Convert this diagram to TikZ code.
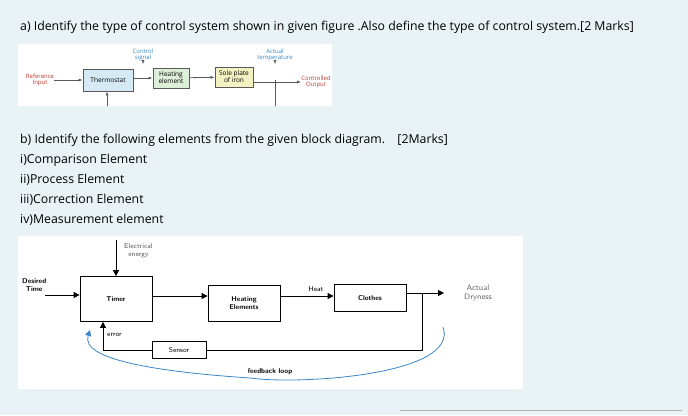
\documentclass[tikz,border=0pt]{standalone}
\usepackage{fontspec}
\setmainfont{Open Sans}
\usetikzlibrary{positioning,arrows.meta}
\definecolor{pagebg}{HTML}{E9F3F6}
\definecolor{thermo}{HTML}{D6EAF5}
\definecolor{heatc}{HTML}{DDEFD9}
\definecolor{solec}{HTML}{F3F0C2}
\definecolor{refred}{HTML}{C0392B}
\definecolor{sigblue}{HTML}{3A86C8}
\tikzset{qtext/.style={anchor=west, inner sep=0pt, font=\fontsize{12.3}{14}\selectfont}}
\tikzset{sblk/.style={draw=gray!70!black, thick, minimum height=20pt, align=center, font=\fontsize{6.5}{7}\selectfont, inner sep=1pt}}
\tikzset{slbl/.style={align=center, font=\fontsize{6}{6.5}\selectfont, inner sep=0pt}}
\tikzset{sarr/.style={draw=gray!70!black, thick, -{Latex[length=4pt]}}}
\tikzset{blk/.style={draw, thick, align=center, font=\sffamily\fontsize{7}{8}\selectfont\bfseries}}
\tikzset{lbl/.style={align=center, font=\sffamily\fontsize{7}{8}\selectfont, inner sep=0pt}}
\tikzset{arr/.style={draw, thick, -{Triangle[length=6pt,width=6pt]}}}
\begin{document}
\begin{tikzpicture}[x=1pt,y=-1pt]
	\fill[pagebg] (0,0) rectangle (688,415);
	\useasboundingbox (0,0) rectangle (688,415);
	\fill[white] (18,44) rectangle (332,106);
	\fill[white] (18,236) rectangle (523,389);
	\draw[gray!60] (400,410) -- (682,410);

	% questions
	\node[qtext] (qa) at (20,27) {a) Identify the type of control system shown in given figure .Also define the type of control system.[2 Marks]};
	\node[qtext] (qb) at (20,140) {b) Identify the following elements from the given block diagram.\quad[2Marks]};
	\node[qtext] (q1) at (20,160) {i)Comparison Element};
	\node[qtext] (q2) at (20,180) {ii)Process Element};
	\node[qtext] (q3) at (20,200) {iii)Correction Element};
	\node[qtext] (q4) at (20,220) {iv)Measurement element};

	% small figure
	\node[sblk, fill=thermo, minimum width=50pt, minimum height=22pt] (th) at (108,80) {Thermostat};
	\node[sblk, fill=heatc, minimum width=36pt] (he) at (171,78) {Heating\\element};
	\node[sblk, fill=solec, minimum width=38pt] (so) at (234,77) {Sole plate\\of iron};
	\node[slbl, text=refred] (ri) at (40,80) {Reference\\Input};
	\node[slbl, text=refred] (co) at (316,82) {Controlled\\Output};
	\node[slbl, text=sigblue] (cs) at (143,55) {Control\\signal};
	\node[slbl, text=sigblue] (at) at (275,55) {Actual\\temperature};
	\coordinate (tap) at (275,80);
	\draw[sarr] (ri) -- (th);
	\draw[sarr] (th.east |- he) -- (he);
	\draw[sarr] (he) -- (so);
	\draw[sarr] (so.east |- co) -- (co);
	\draw[sarr, thin] (cs) -- ++(0,9);
	\draw[sarr, thin] (at) -- ++(0,9);
	\draw[draw=gray!70!black, thick] (tap) -- (275,106);
	\draw[sarr] (107,106) -- (th.south -| 107,0);

	% large figure
	\node[blk, minimum width=72pt, minimum height=45pt] (tim) at (116,299) {Timer};
	\node[blk, minimum width=72pt, minimum height=36pt] (hel) at (244,303) {Heating\\Elements};
	\node[blk, minimum width=72pt, minimum height=27pt] (clo) at (370,298) {Clothes};
	\node[blk, font=\sffamily\fontsize{7}{8}\selectfont, minimum width=54pt, minimum height=17pt] (sen) at (179,350) {Sensor};
	\node[lbl, anchor=west, text=gray!70!black] (ee) at (124,251) {Electrical\\energy};
	\node[lbl, font=\sffamily\fontsize{7}{8}\selectfont\bfseries, anchor=west] (dt) at (22,285) {Desired\\Time};
	\node[lbl, font=\sffamily\fontsize{8}{9}\selectfont, text=gray!80!black] (ad) at (478,293) {Actual\\Dryness};
	\node[lbl, anchor=south] (ht) at (316,292) {Heat};
	\node[lbl, anchor=west] (er) at (107,335) {error};
	\node[lbl, font=\sffamily\fontsize{7}{8}\selectfont\bfseries] (fl) at (270,372) {feedback loop};
	\coordinate (et) at (116,240);
	\coordinate (dts) at (45,295);
	\coordinate (fb) at (422,293);
	\coordinate (ao) at (444,293);
	\draw[arr] (et) -- (tim);
	\draw[arr] (dts) -- (tim.west |- dts);
	\draw[arr] (tim.east |- 0,296) -- (hel.west |- 0,296);
	\draw[arr] (hel.east |- 0,296) -- (clo.west |- 0,296);
	\draw[arr] (clo.east |- fb) -- (ao);
	\draw[thick] (fb) |- (sen.east);
	\draw[arr] (sen.west) -| (tim.south -| 103,0);
	\draw[draw=sigblue, thick, -{Triangle[length=6pt,width=6pt]}] (443,327) .. controls (460,375) and (300,385) .. (250,378) .. controls (160,372) and (80,360) .. (90,330);
\end{tikzpicture}
\end{document}
